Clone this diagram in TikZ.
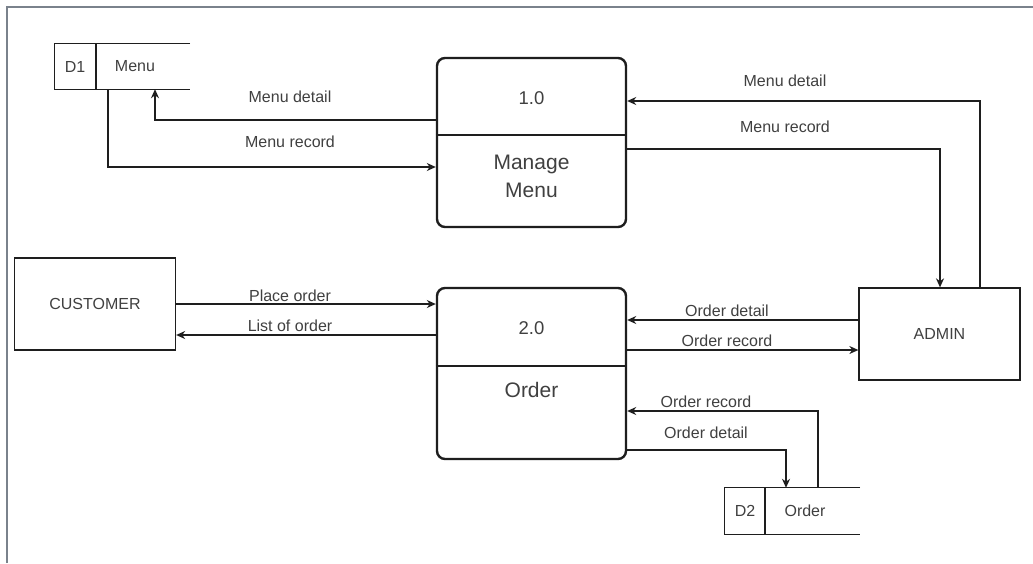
\documentclass[tikz,border=0pt]{standalone}
\usepackage{fontspec}
\setmainfont{Liberation Sans}
\usetikzlibrary{arrows.meta}
\definecolor{txt}{HTML}{404040}
\definecolor{ln}{HTML}{1E1E1E}
\definecolor{frame}{HTML}{7A828C}
\tikzset{
  flow/.style={draw=ln, line width=1.3pt, -{Stealth[length=9pt,width=8pt]}},
  lbl/.style={text=txt, font=\fontsize{16}{18}\selectfont, inner sep=0pt},
  numtxt/.style={text=txt, font=\fontsize{18.5}{21}\selectfont, inner sep=0pt},
  proc/.style={draw=ln, line width=2.4pt, rounded corners=8pt, minimum width=189pt},
  ext/.style={draw=ln, line width=1.3pt, minimum width=161pt, minimum height=92pt, text=txt, font=\fontsize{16}{18}\selectfont},
  store/.style={minimum width=135pt, inner sep=0pt},
  storeline/.style={draw=ln, line width=1.3pt},
  divline/.style={draw=ln, line width=2.4pt},
  bigtxt/.style={text=txt, font=\fontsize{21}{28}\selectfont, align=center, inner sep=0pt}
}
\begin{document}
\begin{tikzpicture}[x=1pt,y=-1pt]
\useasboundingbox (0,0) rectangle (1033,563);
\fill[white] (0,0) rectangle (1033,563);
\draw[frame, line width=2pt] (7,563) -- (7,7) -- (1033,7);

% processes
\node[proc, minimum height=169pt] (p1) at (531.5,142.5) {};
\draw[divline] (p1.west |- 0,135) -- (p1.east |- 0,135);
\node[numtxt] (p1num) at (531.5,98) {1.0};
\node[bigtxt] (p1name) at (531.5,176) {Manage\\Menu};

\node[proc, minimum height=171pt] (p2) at (531.5,373.5) {};
\draw[divline] (p2.west |- 0,366) -- (p2.east |- 0,366);
\node[numtxt] (p2num) at (531.5,328) {2.0};
\node[bigtxt] (p2name) at (531.5,390) {Order};

% externals
\node[ext] (cust) at (95,304) {CUSTOMER};
\node[ext] (admin) at (939.5,334) {ADMIN};

% data stores
\node[store, minimum height=45pt] (d1) at (122.5,66.5) {};
\draw[storeline] (d1.north east) -- (d1.north west) -- (d1.south west) -- (d1.south east);
\draw[storeline] (d1.north -| 96,0) -- (d1.south -| 96,0);
\node[lbl] (d1id) at (75,67) {D1};
\node[lbl] (d1name) at (135,66) {Menu};

\node[store, minimum height=46pt] (d2) at (792.5,511) {};
\draw[storeline] (d2.north east) -- (d2.north west) -- (d2.south west) -- (d2.south east);
\draw[storeline] (d2.north -| 765,0) -- (d2.south -| 765,0);
\node[lbl] (d2id) at (745,511) {D2};
\node[lbl] (d2name) at (805,511) {Order};

% flows around 1.0
\draw[flow] (p1.west |- 0,120) -| (d1.south -| 155,0);
\node[lbl] (l1) at (290,97) {Menu detail};
\draw[flow] (d1.south -| 108,0) |- (p1.west |- 0,167);
\node[lbl] (l2) at (290,142) {Menu record};
\draw[flow] (admin.north -| 980,0) |- (p1.east |- 0,101);
\node[lbl] (l3) at (785,81) {Menu detail};
\draw[flow] (p1.east |- 0,149) -| (admin.north -| 940,0);
\node[lbl] (l4) at (785,127) {Menu record};

% flows around 2.0
\draw[flow] (cust.east |- 0,304) -- (p2.west |- 0,304);
\node[lbl] (l5) at (290,296) {Place order};
\draw[flow] (p2.west |- 0,335) -- (cust.east |- 0,335);
\node[lbl] (l6) at (290,326) {List of order};
\draw[flow] (admin.west |- 0,320) -- (p2.east |- 0,320);
\node[lbl] (l7) at (727,311) {Order detail};
\draw[flow] (p2.east |- 0,350) -- (admin.west |- 0,350);
\node[lbl] (l8) at (727,341) {Order record};
\draw[flow] (d2.north -| 818,0) |- (p2.east |- 0,411);
\node[lbl] (l9) at (706,402) {Order record};
\draw[flow] (p2.east |- 0,450) -| (d2.north -| 786,0);
\node[lbl] (l10) at (706,433) {Order detail};
\end{tikzpicture}
\end{document}
